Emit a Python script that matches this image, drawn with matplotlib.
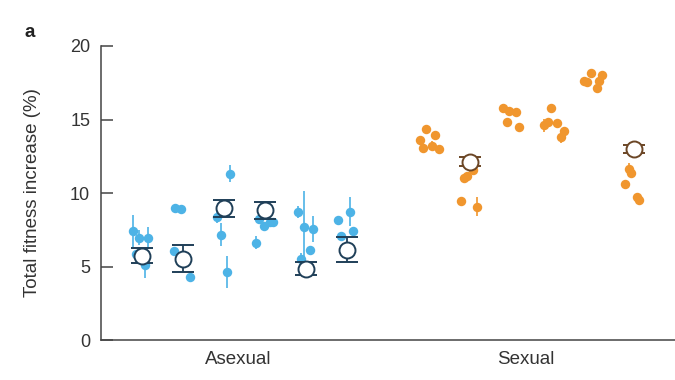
import numpy as np
import matplotlib.pyplot as plt

plt.rcParams['font.family'] = ['Liberation Sans', 'DejaVu Sans']

BLUE = '#4DB3E6'
ORANGE = '#F0962E'
NAVY = '#1F3F58'
BROWN = '#6B4626'
TEXT = '#333333'

# population positions along the x axis
asex_pos = [1, 2, 3, 4, 5, 6]
sex_pos = [8, 9, 10, 11, 12, 13]

# replicate values (%), their jitter offsets and error half-widths
asex_vals = [
    [7.43, 6.97, 6.93, 5.84, 5.09],
    [8.95, 8.90, 6.07, 5.60, 4.32],
    [11.32, 8.40, 7.18, 4.61],
    [6.63, 8.23, 7.78, 8.00, 8.05],
    [8.70, 7.72, 7.55, 6.13, 5.50],
    [8.18, 8.73, 7.43, 7.09],
]
asex_jit = [
    [-0.22, -0.07, 0.15, -0.16, 0.06],
    [-0.20, -0.05, -0.22, 0.00, 0.16],
    [0.14, -0.18, -0.09, 0.07],
    [-0.23, -0.14, -0.02, 0.11, 0.19],
    [-0.20, -0.06, 0.16, 0.10, -0.13],
    [-0.22, 0.07, 0.15, -0.15],
]
asex_err = [
    [1.10, 0.50, 0.75, 0.30, 0.90],
    [0.25, 0.25, 0.20, 0.20, 0.20],
    [0.57, 0.45, 0.78, 1.10],
    [0.45, 0.20, 0.20, 0.20, 0.20],
    [0.40, 2.40, 0.90, 0.30, 0.40],
    [0.20, 0.97, 0.20, 0.20],
]
asex_mean = [5.75, 5.54, 8.95, 8.82, 4.86, 6.13]
asex_sem = [0.51, 0.91, 0.59, 0.60, 0.45, 0.85]

sex_vals = [
    [14.37, 13.93, 13.64, 13.06, 13.23, 12.97],
    [11.60, 11.15, 10.99, 9.48, 9.08],
    [15.75, 15.59, 15.52, 14.83, 14.49],
    [15.75, 14.83, 14.60, 14.77, 14.19, 13.80],
    [18.17, 18.05, 17.60, 17.57, 17.60, 17.13],
    [11.61, 11.36, 10.62, 9.70, 9.54],
]
sex_jit = [
    [-0.08, 0.15, -0.23, -0.15, 0.07, 0.23],
    [0.06, -0.08, -0.14, -0.22, 0.17],
    [-0.19, -0.04, 0.12, -0.11, 0.20],
    [-0.03, -0.10, -0.19, 0.13, 0.29, 0.21],
    [-0.06, 0.23, -0.22, -0.14, 0.15, 0.09],
    [-0.13, -0.07, -0.23, 0.08, 0.13],
]
sex_err = [
    [0.15, 0.15, 0.25, 0.15, 0.30, 0.30],
    [0.35, 0.30, 0.15, 0.15, 0.62],
    [0.30, 0.15, 0.15, 0.20, 0.30],
    [0.30, 0.15, 0.45, 0.15, 0.30, 0.40],
    [0.15, 0.15, 0.15, 0.15, 0.15, 0.35],
    [0.40, 0.30, 0.15, 0.15, 0.15],
]
# only two sexual means are visible, the rest sit behind the dots
sex_mean_pos = [9, 13]
sex_mean = [12.14, 12.99]
sex_sem = [0.30, 0.30]

group_labels = ['Asexual', 'Sexual']
group_ticks = [3.35, 10.35]


def draw_replicates(ax, positions, vals, jit, err, color):
    for p, v, j, e in zip(positions, vals, jit, err):
        x = p + np.array(j)
        ax.errorbar(x, v, yerr=e, fmt='o', color=color, ms=6.8,
                    elinewidth=1.2, capsize=0, mew=0, zorder=2)


def draw_means(ax, positions, means, sems, edge):
    ax.errorbar(positions, means, yerr=sems, fmt='o', ms=11.5,
                mfc='white', mec=edge, mew=1.4, color=edge,
                elinewidth=1.3, capsize=8.2, capthick=1.3, zorder=4)


fig = plt.figure(figsize=(6.75, 3.8), dpi=100)
ax = fig.add_axes([0.15, 0.105, 0.85, 0.774])

draw_replicates(ax, asex_pos, asex_vals, asex_jit, asex_err, BLUE)
draw_replicates(ax, sex_pos, sex_vals, sex_jit, sex_err, ORANGE)
draw_means(ax, asex_pos, asex_mean, asex_sem, NAVY)
draw_means(ax, sex_mean_pos, sex_mean, sex_sem, BROWN)

ax.set_xlim(0, 14)
ax.set_ylim(0, 20)
ax.set_yticks([0, 5, 10, 15, 20])
ax.set_xticks(group_ticks)
ax.set_xticklabels(group_labels)
ax.tick_params(axis='y', direction='in', length=8.5, width=1.1,
               colors='#444444', labelcolor=TEXT, labelsize=13, pad=8)
ax.tick_params(axis='x', length=0, labelcolor=TEXT, labelsize=13.5, pad=8)
ax.set_ylabel('Total fitness increase (%)', fontsize=13.5, color=TEXT)
ax.yaxis.set_label_coords(-0.105, 0.5)

for side in ['top', 'right']:
    ax.spines[side].set_visible(False)
for side in ['left', 'bottom']:
    ax.spines[side].set_color('#444444')
    ax.spines[side].set_linewidth(1.1)

fig.text(0.036, 0.903, 'a', fontsize=13.5, fontweight='bold', color='#222222')

fig.savefig('out.png', dpi=100)
